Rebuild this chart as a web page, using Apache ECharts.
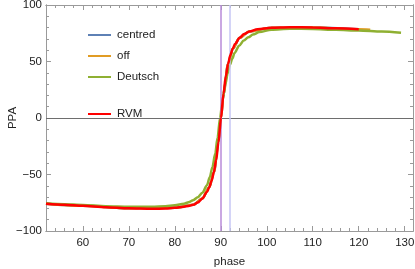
<!DOCTYPE html>
<html><head><meta charset="utf-8">
<script src="https://cdn.jsdelivr.net/npm/echarts@6/dist/echarts.min.js"></script>
<style>html,body{margin:0;padding:0;background:#fff}#c{width:415px;height:269px}</style>
</head><body><div id="c"></div>
<script>
// ---- data ----
const xTicks = [60, 70, 80, 90, 100, 110, 120, 130];
const yTicks = [-100, -50, 0, 50, 100];
const refLines = [90, 92];

const rvmPhase = [52, 56, 60, 65, 70, 75, 78, 80, 82, 83, 84, 85, 86, 87, 87.5, 88, 88.5, 89, 89.5, 90.05, 90.6, 91.1, 91.6, 92.1, 92.6, 93.1, 94.1, 95.1, 96.2, 98, 101, 105, 110, 115, 120];
const rvmPPA   = [-75.8, -76.8, -77.7, -79.0, -79.9, -80.4, -80.1, -79.5, -78.5, -77.8, -76.8, -74.8, -71.2, -65.5, -61.2, -55.8, -48, -37, -21.5, 0, 21.5, 37, 48, 55.8, 61.2, 65.5, 71, 74.3, 76.6, 78.6, 79.8, 80.3, 80.1, 79.4, 78.5];

const deutschPhase = [52, 56, 60, 65, 70, 75, 78, 80, 82, 83, 84, 85, 86, 87, 87.6, 88.2, 88.8, 89.3, 89.85, 90.4, 91, 91.5, 92, 92.5, 93, 94, 95, 96, 97, 98.4, 101, 105, 110, 115, 120, 125, 129.2];
const deutschPPA   = [-75.5, -76.3, -77.0, -78.0, -78.5, -78.6, -78.1, -77.3, -75.8, -74.6, -72.8, -70.2, -66.2, -59.5, -52.5, -43.3, -31.5, -17.5, 0, 16, 30, 39.5, 47, 52.5, 57.5, 64, 68.5, 71.5, 73.8, 76, 78.2, 79, 78.8, 78, 77.4, 76.5, 75.5];

const centredPhase = [52, 60, 70, 80, 84, 86, 87.5, 88.5, 89.5, 90.05, 90.6, 91.6, 92.6, 94.1, 96.2, 101, 110, 120];
const centredPPA   = [-75.8, -77.7, -79.9, -79.5, -76.8, -71.2, -61.2, -48, -21.5, 0, 21.5, 48, 61.2, 71, 76.6, 79.8, 80.1, 78.5];

const offPhase = [52, 60, 70, 80, 84, 86, 87.5, 88.5, 89.5, 90.05, 90.6, 91.6, 92.6, 94.1, 96.2, 101, 110, 120, 122.5];
const offPPA   = [-75.8, -77.7, -79.9, -79.5, -76.8, -71.2, -61.2, -48, -21.5, 0, 21.5, 48, 61.2, 71, 76.6, 79.8, 80.1, 78.5, 78.1];

// ---- build ----
const zip = (a, b) => a.map((v, i) => [v, b[i]]);
const minorX = []; for (let v = 52; v <= 131; v += 2) if (v % 10) minorX.push(v);
const minorY = []; for (let v = -90; v <= 90; v += 10) if (v % 50) minorY.push(v);

const FONT = 'Liberation Sans, Arial, sans-serif';
const axisColor = '#9a9a9a';
const lab = {color: '#222', fontSize: 11.5, fontFamily: FONT};

function xAx(pos, ticks, len, showLab, extra) {
  return Object.assign({
    type: 'value', position: pos, min: 52, max: 131.8,
    axisLine: {show: true, onZero: false, lineStyle: {color: axisColor}},
    axisTick: {show: true, inside: true, length: len, customValues: ticks, lineStyle: {color: axisColor}},
    axisLabel: showLab ? Object.assign({customValues: ticks, margin: 6, formatter: v => String(v)}, lab) : {show: false},
    splitLine: {show: false}
  }, extra || {});
}
function yAx(pos, ticks, len, showLab, extra) {
  return Object.assign({
    type: 'value', position: pos, min: -100, max: 100,
    axisLine: {show: true, onZero: false, lineStyle: {color: axisColor}},
    axisTick: {show: true, inside: true, length: len, customValues: ticks, lineStyle: {color: axisColor}},
    axisLabel: showLab ? Object.assign({customValues: ticks, margin: 4, formatter: v => String(v).replace('-', '\u2212')}, lab) : {show: false},
    splitLine: {show: false}
  }, extra || {});
}

const lineSeries = (name, data, color, w, z) => ({
  name, type: 'line', data, showSymbol: false, symbol: 'none', smooth: 0.3, smoothMonotone: 'x',
  lineStyle: {color, width: w}, itemStyle: {color}, z, xAxisIndex: 0, yAxisIndex: 0
});

const chart = echarts.init(document.getElementById('c'), null, {renderer: 'canvas'});
const blue = lineSeries('centred', zip(centredPhase, centredPPA), '#5e81b5', 2.5, 2);
blue.markLine = {
  silent: true, symbol: 'none', label: {show: false},
  data: [
    {yAxis: 0, lineStyle: {color: '#6e6e6e', width: 1.2, type: 'solid'}},
    {xAxis: refLines[0], lineStyle: {color: '#b98bd8', width: 1.5, type: 'solid'}},
    {xAxis: refLines[1], lineStyle: {color: '#c6c6f4', width: 1.5, type: 'solid'}}
  ]
};
chart.setOption({
  animation: false,
  backgroundColor: '#fff',
  grid: {left: 46, right: 2, top: 5, bottom: 38, containLabel: false, outerBoundsMode: 'none'},
  legend: [
    {data: ['centred', 'off', 'Deutsch'], orient: 'vertical', left: 83, top: 24, itemWidth: 23, itemHeight: 2, itemGap: 9, icon: 'rect',
     textStyle: Object.assign({}, lab, {padding: [0, 0, 0, 1]})},
    {data: ['RVM'], orient: 'vertical', left: 83, top: 103, itemWidth: 23, itemHeight: 2, icon: 'rect',
     textStyle: Object.assign({}, lab, {padding: [0, 0, 0, 1]})}
  ],
  xAxis: [
    xAx('bottom', xTicks, 5, true, {name: 'phase', nameLocation: 'middle', nameGap: 25, nameMoveOverlap: false, nameTextStyle: lab}),
    xAx('bottom', minorX, 3, false),
    xAx('top', xTicks, 5, false),
    xAx('top', minorX, 3, false)
  ],
  yAxis: [
    yAx('left', yTicks, 5, true, {name: 'PPA', nameLocation: 'middle', nameGap: 27, nameMoveOverlap: false, nameTextStyle: lab}),
    yAx('left', minorY, 3, false),
    yAx('right', yTicks, 5, false),
    yAx('right', minorY, 3, false)
  ],
  series: [
    blue,
    lineSeries('off', zip(offPhase, offPPA), '#e19c24', 2.5, 3),
    lineSeries('Deutsch', zip(deutschPhase, deutschPPA), '#8fb032', 2.5, 4),
    lineSeries('RVM', zip(rvmPhase, rvmPPA), '#ff0000', 2.5, 5)
  ]
});
</script></body></html>
